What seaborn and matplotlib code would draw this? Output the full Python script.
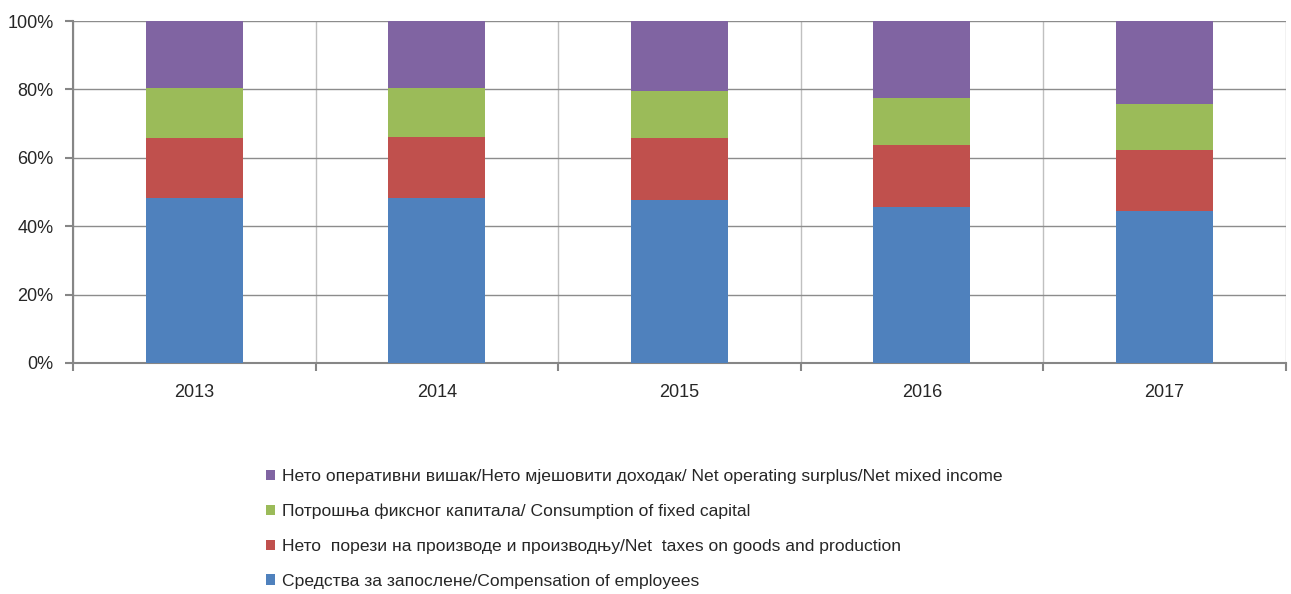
import numpy as np
import pandas as pd
import matplotlib
matplotlib.use("Agg")
import matplotlib.pyplot as plt
import seaborn as sns
from matplotlib.patches import Patch
from matplotlib.ticker import FixedLocator, PercentFormatter
from matplotlib import font_manager

# ---------------- data (shares, %) ----------------
years = ["2013", "2014", "2015", "2016", "2017"]
compensation = [48.1, 48.2, 47.7, 45.5, 44.5]
net_taxes = [17.8, 18.0, 18.2, 18.3, 17.8]
fixed_capital = [14.4, 14.2, 13.7, 13.6, 13.5]
surplus = [19.7, 19.6, 20.4, 22.6, 24.2]

labels = [
    "Средства за запослене/Compensation of employees",
    "Нето  порези на производе и производњу/Net  taxes on goods and production",
    "Потрошња фиксног капитала/ Consumption of fixed capital",
    "Нето оперативни вишак/Нето мјешовити доходак/ Net operating surplus/Net mixed income",
]
colors = ["#4F81BD", "#C0504D", "#9BBB59", "#8064A2"]

sns.set_style("white")
names = {f.name for f in font_manager.fontManager.ttflist}
family = "Liberation Sans Narrow" if "Liberation Sans Narrow" in names else "Liberation Sans"
plt.rcParams["font.family"] = [family, "DejaVu Sans"]

df = pd.DataFrame({
    "year": years,
    "c1": compensation,
    "c2": net_taxes,
    "c3": fixed_capital,
    "c4": surplus,
})
layers = ["c1", "c2", "c3", "c4"]
cum = df[layers].cumsum(axis=1)

fig = plt.figure(figsize=(12.91, 5.94), dpi=100)
ax = fig.add_axes([0.0565, 0.389, 0.9395, 0.5756])

# draw tallest cumulative first so lower layers sit on top
for i in reversed(range(4)):
    sns.barplot(x=df["year"], y=cum[layers[i]], color=colors[i], width=0.4,
                saturation=1, linewidth=0, ax=ax, zorder=3)

ax.set_xlim(-0.5, 4.5)
ax.set_ylim(0, 100)
ax.set_xlabel("")
ax.set_ylabel("")

ax.yaxis.set_major_locator(FixedLocator([0, 20, 40, 60, 80, 100]))
ax.yaxis.set_major_formatter(PercentFormatter(decimals=0))
ax.xaxis.set_minor_locator(FixedLocator(np.arange(-0.5, 5, 1.0)))

ax.grid(True, which="major", axis="y", color="#8c8c8c", linewidth=1.0, zorder=0)
ax.grid(True, which="minor", axis="x", color="#c0c0c0", linewidth=1.0, zorder=0)
ax.set_axisbelow(True)

for s in ["top", "right"]:
    ax.spines[s].set_visible(False)
for s in ["left", "bottom"]:
    ax.spines[s].set_color("#868686")
    ax.spines[s].set_linewidth(1.5)

ax.tick_params(axis="y", which="major", direction="out", length=6, width=1.5,
               color="#868686", labelsize=13, pad=8, left=True)
ax.tick_params(axis="x", which="major", length=0, labelsize=13, pad=15)
ax.tick_params(axis="x", which="minor", direction="out", length=6, width=1.5,
               color="#868686", bottom=True)

handles = [Patch(facecolor=colors[i], edgecolor="none") for i in reversed(range(4))]
fig.legend(handles, [labels[i] for i in reversed(range(4))],
           loc="upper left", bbox_to_anchor=(0.2005, 0.222), frameon=False,
           fontsize=12.6, handlelength=0.55, handleheight=0.55,
           handletextpad=0.35, labelspacing=1.13, borderaxespad=0)

fig.savefig("out.png", dpi=100)
